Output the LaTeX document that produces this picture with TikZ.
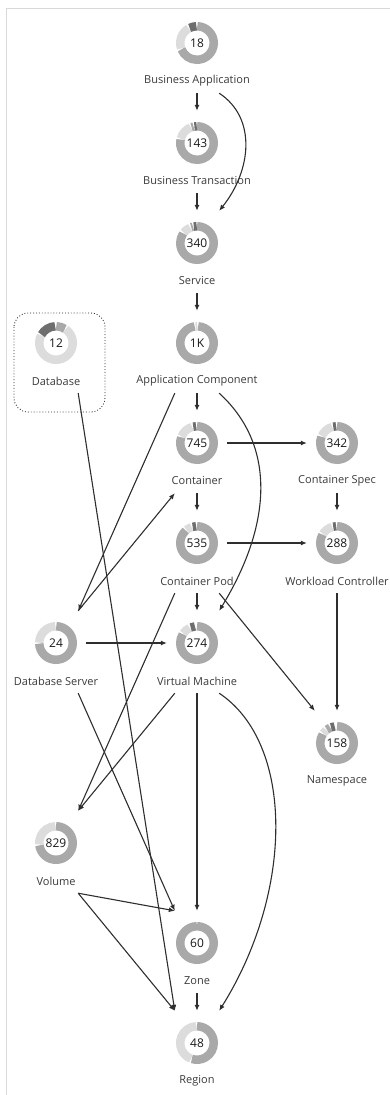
\documentclass[tikz,border=0pt]{standalone}
\usepackage{fontspec}
\setmainfont{Open Sans}
\usepackage{xcolor}
\usetikzlibrary{arrows.meta}

\definecolor{ringmid}{HTML}{A9A9A9}
\definecolor{ringlight}{HTML}{DCDCDC}
\definecolor{ringdark}{HTML}{6E6E6E}
\definecolor{linkgray}{HTML}{2E2E2E}
\definecolor{textgray}{HTML}{3A3A3A}
\definecolor{framegray}{HTML}{D9D9D9}

% entity: name, x, y, count, label, ring segments (from/to/colour, clockwise from top)
\newcommand{\entity}[6]{%
  \node[entbox] (#1) at (#2,#3+9) {};
  \foreach \a/\b/\c in {#6}
    \draw[ring, \c] (#2,#3) ++(\a-90:16.75) arc[start angle=\a-90, end angle=\b-90, radius=16.75];
  \node[count] (#1-n) at (#2,#3) {#4};
  \node[entlabel] (#1-t) at (#2,#3+38) {#5};
}

\begin{document}
\begin{tikzpicture}[x=1pt, y=-1pt,
    entbox/.style={rectangle, minimum width=44pt, minimum height=82pt, inner sep=0},
    ring/.style={line width=8.5pt},
    count/.style={circle, minimum size=42pt, inner sep=0, font=\fontsize{12}{14}\selectfont, text=black!90},
    entlabel/.style={inner sep=0, font=\fontsize{11}{13}\selectfont, text=textgray},
    link/.style={draw=linkgray, line width=1.1pt, -{Latex[length=6pt,width=5pt]}}]
    \useasboundingbox (0,0) rectangle (390,1095);
    \draw[framegray, line width=1pt] (390,8) -- (6,8) -- (6,1095);

    % entities
    \entity{ba}{197}{43}{18}{Business Application}{1/248/ringmid, 251/330/ringlight, 334/358/ringdark}
    \entity{bt}{197}{143}{143}{Business Transaction}{0/282/ringmid, 285/338/ringlight, 341/348/ringmid, 351/359/ringdark}
    \entity{svc}{197}{243}{340}{Service}{0/305/ringmid, 308/336/ringlight, 340/346/ringmid, 349/359/ringdark}
    \entity{appc}{197}{343}{1K}{Application Component}{4/352/ringmid, 355/361/ringlight}
    \entity{db}{56}{343}{12}{Database}{1/32/ringmid, 35/297/ringlight, 300/357/ringdark}
    \entity{ctr}{197}{443}{745}{Container}{0/290/ringmid, 293/343/ringlight, 347/357/ringdark}
    \entity{cs}{337}{443}{342}{Container Spec}{0/292/ringmid, 295/343/ringlight, 347/357/ringdark}
    \entity{pod}{197}{543}{535}{Container Pod}{0/318/ringmid, 321/341/ringlight, 345/357/ringdark}
    \entity{wc}{337}{543}{288}{Workload Controller}{0/300/ringmid, 303/343/ringlight, 347/357/ringdark}
    \entity{dbs}{56}{643}{24}{Database Server}{1/268/ringmid, 271/358/ringlight}
    \entity{vm}{197}{643}{274}{Virtual Machine}{0/302/ringmid, 305/334/ringlight, 338/353/ringdark}
    \entity{ns}{337}{743}{158}{Namespace}{0/302/ringmid, 305/320/ringlight, 323/336/ringmid, 339/352/ringdark}
    \entity{vol}{56}{843}{829}{Volume}{0/262/ringmid, 265/358/ringlight}
    \entity{zone}{197}{943}{60}{Zone}{0/359.9/ringmid}
    \entity{reg}{197}{1043}{48}{Region}{0/198/ringmid, 201/358/ringlight}

    % selected entity
    \draw[linkgray, dotted, line width=0.9pt, rounded corners=14pt] (14,313) rectangle (105,412);

    % connectors
    \draw[link] (ba.south) -- (bt.north);
    \draw[link] (ba.south east) .. controls +(38,25) and +(32,-40) .. (svc.north east);
    \draw[link] (bt.south) -- (svc.north);
    \draw[link] (svc.south) -- (appc.north);
    \draw[link] (appc.south) -- (ctr.north);
    \draw[link] (appc.south west) -- (dbs.north east);
    \draw[link] (appc.south east) .. controls +(55,50) and +(55,-90) .. (vm.north east);
    \draw[link] (db.south east) -- (reg.north west);
    \draw[link, shorten <=9pt, shorten >=9pt] (ctr-n.east) -- (cs-n.west);
    \draw[link] (ctr.south) -- (pod.north);
    \draw[link] (cs.south) -- (wc.north);
    \draw[link, shorten <=9pt, shorten >=9pt] (pod-n.east) -- (wc-n.west);
    \draw[link] (dbs.north east) -- (ctr.south west);
    \draw[link] (pod.south) -- (vm.north);
    \draw[link] (pod.south west) -- (vol.north east);
    \draw[link] (pod.south east) -- (ns.north west);
    \draw[link] (wc.south) -- (ns.north);
    \draw[link, shorten <=9pt, shorten >=9pt] (dbs-n.east) -- (vm-n.west);
    \draw[link] (dbs.south east) -- (zone.north west);
    \draw[link] (vm.south west) -- (vol.north east);
    \draw[link] (vm.south) -- (zone.north);
    \draw[link] (vm.south east) .. controls +(75,50) and +(75,-120) .. (reg.north east);
    \draw[link] (vol.south east) -- (zone.north west);
    \draw[link] (vol.south east) -- (reg.north west);
    \draw[link] (zone.south) -- (reg.north);
\end{tikzpicture}
\end{document}
